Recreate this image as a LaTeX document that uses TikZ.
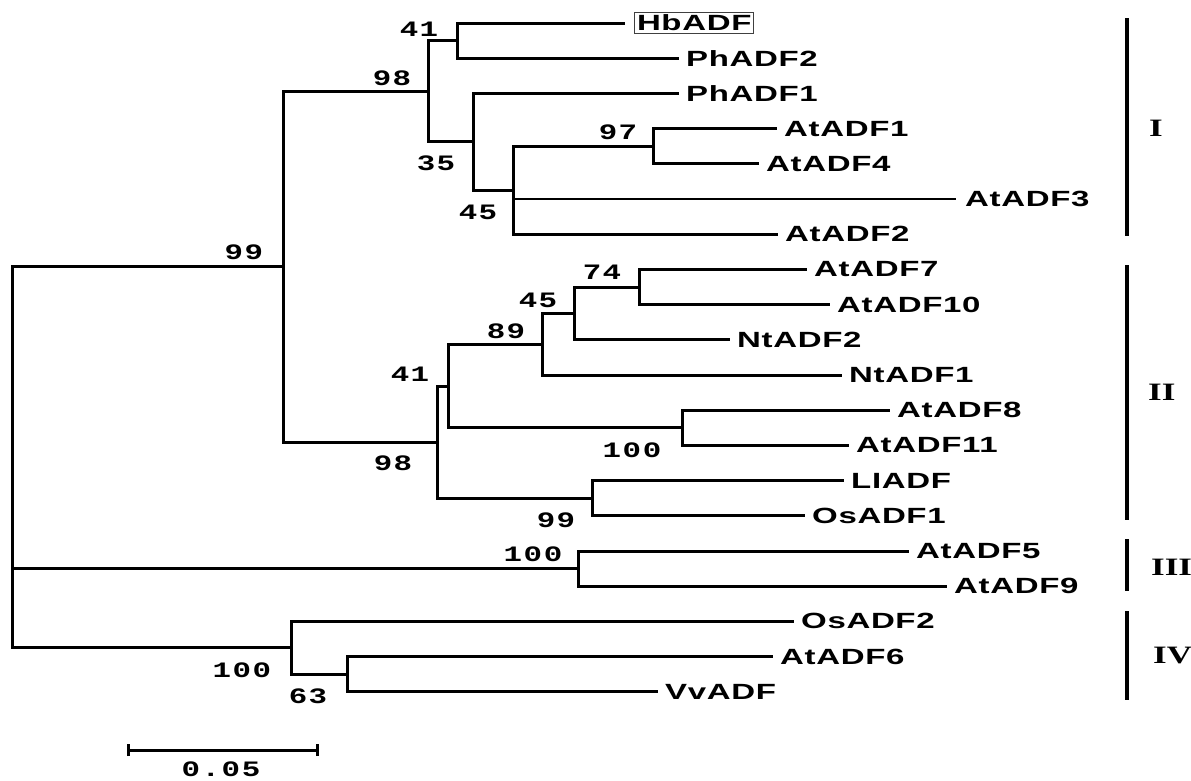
\documentclass[tikz,border=0pt]{standalone}
\usepackage{fontspec}
\usepackage{graphicx}
\newfontfamily\labfont{Liberation Sans}[LetterSpace=2]
\newfontfamily\numfont{Liberation Mono}[LetterSpace=5]
\newfontfamily\romfont{Liberation Serif}
\newcommand\lbt[1]{\scalebox{1.5}[1]{\labfont\bfseries\fontsize{22}{22}\selectfont #1}}
\newcommand\nbt[1]{\scalebox{1.4}[1]{\numfont\bfseries\fontsize{22}{22}\selectfont #1}}
\newcommand\rmt[1]{\scalebox{1.4}[1]{\romfont\bfseries\fontsize{25}{25}\selectfont #1}}
\begin{document}
\begin{tikzpicture}[x=1pt,y=-1pt,
  br/.style={line width=3pt, line cap=rect},
  thinbr/.style={line width=1.4pt},
  leaf/.style={anchor=west, inner sep=0pt, xshift=9pt},
  boot/.style={inner sep=0pt},
  grp/.style={line width=4pt},
  grplab/.style={inner sep=0pt, anchor=west}]
\useasboundingbox (0,0) rectangle (1191,780);
\clip (0,0) rectangle (1191,780);
% internal nodes
\coordinate (root) at (12,457);
\coordinate (n99) at (283,266.7);
\coordinate (n98a) at (428,91.2);
\coordinate (n41a) at (457,40.6);
\coordinate (n35) at (473,141.8);
\coordinate (n45a) at (513,190.2);
\coordinate (n97) at (653,146.2);
\coordinate (n98b) at (437,442.1);
\coordinate (n41b) at (448,386);
\coordinate (n89) at (542,344.2);
\coordinate (n45b) at (574,313.4);
\coordinate (n74) at (639,287);
\coordinate (n100a) at (682,427.8);
\coordinate (n99b) at (592,498.2);
\coordinate (nIII) at (578,568.6);
\coordinate (nIV) at (291,647.8);
\coordinate (n63) at (347,674.2);
% leaf ends
\coordinate (eHb) at (623,23);
\coordinate (ePh2) at (677,58.2);
\coordinate (ePh1) at (677,93.4);
\coordinate (eAt1) at (775,128.6);
\coordinate (eAt4) at (757,163.8);
\coordinate (eAt3) at (956,199);
\coordinate (eAt2) at (776,234.2);
\coordinate (eAt7) at (805,269.4);
\coordinate (eAt10) at (828,304.6);
\coordinate (eNt2) at (728,339.8);
\coordinate (eNt1) at (840,375);
\coordinate (eAt8) at (888,410.2);
\coordinate (eAt11) at (847,445.4);
\coordinate (eLl) at (842,480.6);
\coordinate (eOs1) at (803,515.8);
\coordinate (eAt5) at (907,551);
\coordinate (eAt9) at (945,586.2);
\coordinate (eOs2) at (792,621.4);
\coordinate (eAt6) at (771,656.6);
\coordinate (eVv) at (656,691.8);
% leaf labels
\node[leaf, draw=black!75, line width=1pt, inner sep=2.5pt, xshift=2pt] (Hb) at (eHb) {\lbt{HbADF}};
\node[leaf] (Ph2) at (ePh2) {\lbt{PhADF2}};
\node[leaf] (Ph1) at (ePh1) {\lbt{PhADF1}};
\node[leaf] (At1) at (eAt1) {\lbt{AtADF1}};
\node[leaf] (At4) at (eAt4) {\lbt{AtADF4}};
\node[leaf] (At3) at (eAt3) {\lbt{AtADF3}};
\node[leaf] (At2) at (eAt2) {\lbt{AtADF2}};
\node[leaf] (At7) at (eAt7) {\lbt{AtADF7}};
\node[leaf] (At10) at (eAt10) {\lbt{AtADF10}};
\node[leaf] (Nt2) at (eNt2) {\lbt{NtADF2}};
\node[leaf] (Nt1) at (eNt1) {\lbt{NtADF1}};
\node[leaf] (At8) at (eAt8) {\lbt{AtADF8}};
\node[leaf] (At11) at (eAt11) {\lbt{AtADF11}};
\node[leaf] (Ll) at (eLl) {\lbt{LIADF}};
\node[leaf] (Os1) at (eOs1) {\lbt{OsADF1}};
\node[leaf] (At5) at (eAt5) {\lbt{AtADF5}};
\node[leaf] (At9) at (eAt9) {\lbt{AtADF9}};
\node[leaf] (Os2) at (eOs2) {\lbt{OsADF2}};
\node[leaf] (At6) at (eAt6) {\lbt{AtADF6}};
\node[leaf] (Vv) at (eVv) {\lbt{VvADF}};
% branches
\draw[br] (root) |- (n99);
\draw[br] (root) |- (nIII);
\draw[br] (root) |- (nIV);
\draw[br] (n99) |- (n98a);
\draw[br] (n99) |- (n98b);
\draw[br] (n98a) |- (n41a);
\draw[br] (n98a) |- (n35);
\draw[br] (n41a) |- (eHb);
\draw[br] (n41a) |- (ePh2);
\draw[br] (n35) |- (ePh1);
\draw[br] (n35) |- (n45a);
\draw[br] (n45a) |- (n97);
\draw[thinbr] (n45a) |- (eAt3);
\draw[br] (n45a) |- (eAt2);
\draw[br] (n97) |- (eAt1);
\draw[br] (n97) |- (eAt4);
\draw[br] (n98b) |- (n41b);
\draw[br] (n98b) |- (n99b);
\draw[br] (n41b) |- (n89);
\draw[br] (n41b) |- (n100a);
\draw[br] (n89) |- (n45b);
\draw[br] (n89) |- (eNt1);
\draw[br] (n45b) |- (n74);
\draw[br] (n45b) |- (eNt2);
\draw[br] (n74) |- (eAt7);
\draw[br] (n74) |- (eAt10);
\draw[br] (n100a) |- (eAt8);
\draw[br] (n100a) |- (eAt11);
\draw[br] (n99b) |- (eLl);
\draw[br] (n99b) |- (eOs1);
\draw[br] (nIII) |- (eAt5);
\draw[br] (nIII) |- (eAt9);
\draw[br] (nIV) |- (eOs2);
\draw[br] (nIV) |- (n63);
\draw[br] (n63) |- (eAt6);
\draw[br] (n63) |- (eVv);
% bootstrap values
\node[boot] (b41a) at (419,29) {\nbt{41}};
\node[boot] (b98a) at (392,78) {\nbt{98}};
\node[boot] (b35) at (436,163) {\nbt{35}};
\node[boot] (b45a) at (478,212) {\nbt{45}};
\node[boot] (b97) at (618,132) {\nbt{97}};
\node[boot] (b99) at (244,252) {\nbt{99}};
\node[boot] (b74) at (602,272) {\nbt{74}};
\node[boot] (b45b) at (538,300) {\nbt{45}};
\node[boot] (b89) at (506,331) {\nbt{89}};
\node[boot] (b41b) at (410,374) {\nbt{41}};
\node[boot] (b100a) at (632,450) {\nbt{100}};
\node[boot] (b98b) at (393,463) {\nbt{98}};
\node[boot] (b99b) at (556,520) {\nbt{99}};
\node[boot] (b100c) at (533,554) {\nbt{100}};
\node[boot] (b100d) at (242,670) {\nbt{100}};
\node[boot] (b63) at (308,696) {\nbt{63}};
% scale bar
\coordinate (sbl) at (128,750);
\coordinate (sbr) at (317,750);
\draw[br, line cap=butt] (sbl) -- (sbr);
\draw[br, line cap=butt] ([yshift=-6pt]sbl) -- ([yshift=6pt]sbl);
\draw[br, line cap=butt] ([yshift=-6pt]sbr) -- ([yshift=6pt]sbr);
\node[boot] (sblab) at (221,769) {\nbt{0.05}};
% groups
\coordinate (gIt) at (1127,18);
\coordinate (gIb) at (1127,236);
\coordinate (gIIt) at (1127,265);
\coordinate (gIIb) at (1127,520);
\coordinate (gIIIt) at (1127,539);
\coordinate (gIIIb) at (1127,591);
\coordinate (gIVt) at (1127,611);
\coordinate (gIVb) at (1127,700);
\draw[grp] (gIt) -- (gIb);
\draw[grp] (gIIt) -- (gIIb);
\draw[grp] (gIIIt) -- (gIIIb);
\draw[grp] (gIVt) -- (gIVb);
\node[grplab] (lI) at (1149,128) {\rmt{I}};
\node[grplab] (lII) at (1148,392) {\rmt{II}};
\node[grplab] (lIII) at (1151,567) {\rmt{III}};
\node[grplab] (lIV) at (1153,655) {\rmt{IV}};
\end{tikzpicture}
\end{document}
